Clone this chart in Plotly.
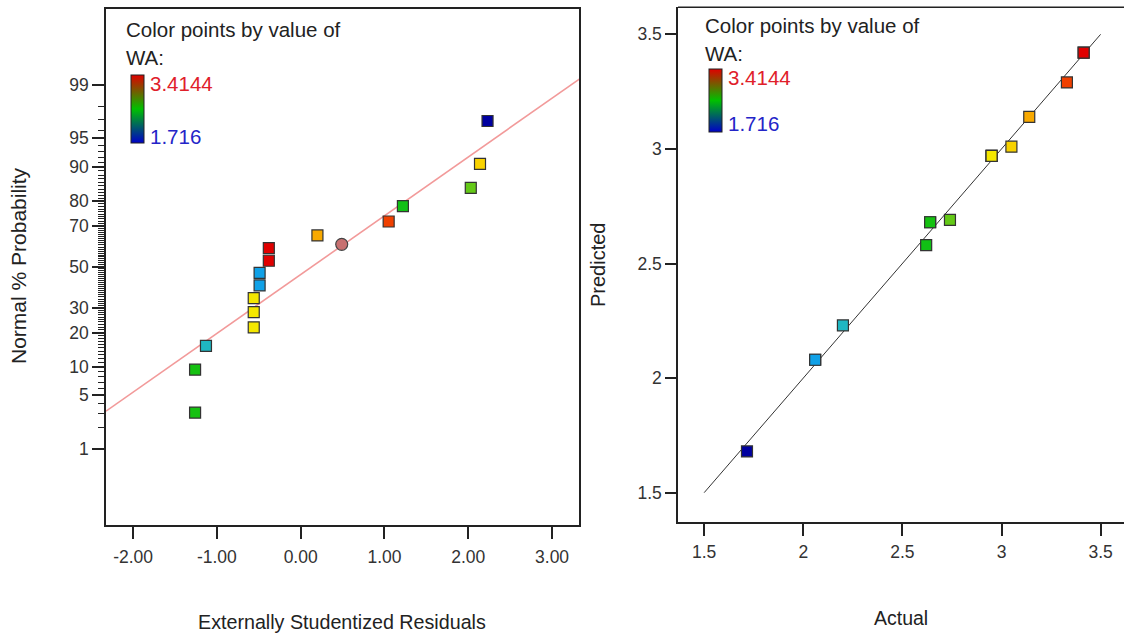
import statistics
import plotly.graph_objects as go

# ---- data -------------------------------------------------------------
# Normal plot of residuals (one entry per run)
residuals = [-1.26, -1.26, -1.13, -0.56, -0.56, -0.56, -0.49, -0.49,
             -0.38, -0.38, 0.20, 1.05, 1.22, 2.03, 2.14, 2.23]
normal_prob = [3.1, 9.4, 15.6, 21.9, 28.1, 34.4, 40.6, 46.9,
               53.1, 59.4, 65.6, 71.9, 78.1, 84.4, 90.6, 96.9]
# Actual and predicted WA for the same runs
actual = [2.64, 2.64, 2.20, 2.95, 2.95, 2.95, 2.06, 2.06,
          3.4144, 3.4144, 3.14, 3.33, 2.62, 2.74, 3.05, 1.716]
predicted = [2.68, 2.68, 2.23, 2.97, 2.97, 2.97, 2.08, 2.08,
             3.42, 3.42, 3.14, 3.29, 2.58, 2.69, 3.01, 1.68]
# highlighted run on the normal plot
highlight_residual = [0.49]
highlight_prob = [61.3]

wa_min, wa_max = 1.716, 3.4144

# reference line of the normal plot (probit units per residual)
ref_slope = 0.7527
ref_intercept = -0.0995
# 1:1 line of the predicted vs actual plot
diag = [1.5, 3.5]

resid_ticks = [-2, -1, 0, 1, 2, 3]
resid_tick_text = ["-2.00", "-1.00", "0.00", "1.00", "2.00", "3.00"]
prob_ticks = [1, 5, 10, 20, 30, 50, 70, 80, 90, 95, 99]
prob_minor = [p for p in range(2, 99) if p not in prob_ticks]
pred_ticks = [1.5, 2, 2.5, 3, 3.5]
pred_tick_text = ["1.5", "2", "2.5", "3", "3.5"]

# ---- helpers ----------------------------------------------------------
nd = statistics.NormalDist()


def probit(p):
    return nd.inv_cdf(p / 100.0)


W, H = 1124, 636
FONT = "Liberation Sans, Arial, sans-serif"
INK = "#222222"

point_scale = [
    [0.0, "#0000a0"], [0.2, "#10a0e8"], [0.29, "#20b8c0"], [0.4, "#20c070"],
    [0.54, "#10c010"], [0.6, "#60c818"], [0.68, "#c0e000"], [0.73, "#f8e800"],
    [0.79, "#f8d000"], [0.84, "#f8a800"], [0.95, "#f04000"], [1.0, "#e00000"],
]
legend_scale = [[0.0, "#0000c8"], [0.5, "#00c000"], [1.0, "#e00000"]]

fig = go.Figure()

# normal plot reference line
x_rng = [-2.323, 3.325]
fig.add_trace(go.Scatter(
    x=x_rng, y=[ref_intercept + ref_slope * v for v in x_rng],
    mode="lines", line=dict(color="#f29a9a", width=1.6),
    xaxis="x", yaxis="y", hoverinfo="skip", showlegend=False))

fig.add_trace(go.Scatter(
    x=residuals, y=[probit(p) for p in normal_prob], mode="markers",
    marker=dict(symbol="square", size=11, color=actual, colorscale=point_scale,
                cmin=wa_min, cmax=wa_max, line=dict(color="#333333", width=1.2)),
    xaxis="x", yaxis="y", showlegend=False))

fig.add_trace(go.Scatter(
    x=highlight_residual, y=[probit(p) for p in highlight_prob], mode="markers",
    marker=dict(symbol="circle", size=12, color="#c87070",
                line=dict(color="#444444", width=1.2)),
    xaxis="x", yaxis="y", showlegend=False))

# predicted vs actual
fig.add_trace(go.Scatter(
    x=diag, y=diag, mode="lines", line=dict(color="#333333", width=1),
    xaxis="x2", yaxis="y2", hoverinfo="skip", showlegend=False))

fig.add_trace(go.Scatter(
    x=actual, y=predicted, mode="markers",
    marker=dict(symbol="square", size=11, color=actual, colorscale=point_scale,
                cmin=wa_min, cmax=wa_max, line=dict(color="#333333", width=1.2)),
    xaxis="x2", yaxis="y2", showlegend=False))


# colour keys
def key_trace(xpx, top_px, len_px, xa, ya):
    return go.Scatter(
        x=[None, None], y=[None, None], mode="markers",
        marker=dict(color=[wa_min, wa_max], colorscale=legend_scale,
                    cmin=wa_min, cmax=wa_max, showscale=True,
                    colorbar=dict(thickness=13, thicknessmode="pixels",
                                  len=len_px, lenmode="pixels",
                                  x=xpx / W, xanchor="left",
                                  y=1 - top_px / H, yanchor="top",
                                  xpad=0, ypad=0, outlinewidth=1,
                                  outlinecolor=INK, borderwidth=0,
                                  showticklabels=False, ticks="")),
        xaxis=xa, yaxis=ya, hoverinfo="skip", showlegend=False)


fig.add_trace(key_trace(131, 75, 68, "x", "y"))
fig.add_trace(key_trace(709, 69, 63, "x2", "y2"))

axis_common = dict(showline=True, linecolor=INK, linewidth=1.5, ticks="outside",
                   tickcolor=INK, tickwidth=1.5, showgrid=False, zeroline=False,
                   tickfont=dict(family=FONT, size=17.5, color="#333333"))

fig.update_layout(
    width=W, height=H, margin=dict(l=0, r=0, t=0, b=0),
    paper_bgcolor="white", plot_bgcolor="white",
    xaxis=dict(domain=[106 / W, 579.3 / W], range=x_rng, mirror=True,
               tickvals=resid_ticks, ticktext=resid_tick_text, ticklen=12,
               ticklabelstandoff=3, anchor="y", **axis_common),
    yaxis=dict(domain=[1 - 525 / H, 1 - 9 / H], range=[-3.305, 3.30], mirror=True,
               tickvals=[probit(p) for p in prob_ticks],
               ticktext=[str(p) for p in prob_ticks], ticklen=12,
               minor=dict(tickmode="array", tickvals=[probit(p) for p in prob_minor],
                          ticks="outside", ticklen=6, tickcolor=INK, tickwidth=1),
               anchor="x", **axis_common),
    xaxis2=dict(domain=[678 / W, 1.0], range=[1.368, 3.618],
                tickvals=pred_ticks, ticktext=pred_tick_text, ticklen=12,
                ticklabelstandoff=1, anchor="y2", **axis_common),
    yaxis2=dict(domain=[1 - 522 / H, 1 - 7.3 / H], range=[1.372, 3.618],
                tickvals=pred_ticks, ticktext=pred_tick_text, ticklen=11,
                anchor="x2", **axis_common),
    shapes=[dict(type="line", xref="x2 domain", yref="y2 domain",
                 x0=0, x1=1, y0=1, y1=1, line=dict(color=INK, width=1.5))],
)


def label(text, xpx, ypx, size=20.5, color=INK, xanchor="left", angle=0):
    fig.add_annotation(text=text, x=xpx / W, y=1 - ypx / H, xref="paper",
                       yref="paper", xanchor=xanchor, yanchor="middle",
                       showarrow=False, textangle=angle,
                       font=dict(family=FONT, size=size, color=color))


for x0, y1, y2, vx, vy_hi, vy_lo in [(124, 30, 57, 148, 83.3, 136.7),
                                     (703, 25.8, 53.3, 726, 77.5, 124)]:
    label("Color points by value of", x0, y1)
    label("WA:", x0, y2)
    label(f"{wa_max:g}", vx, vy_hi, color="#e0202a")
    label(f"{wa_min:g}", vx, vy_lo, color="#2424c8")

label("Normal % Probability", 18, 266, size=21, xanchor="center", angle=-90)
label("Externally Studentized Residuals", 342, 622, size=19.7, xanchor="center")
label("Predicted", 598, 265, size=20, xanchor="center", angle=-90)
label("Actual", 901, 618, size=19.5, xanchor="center")

fig.write_html("out.html")
